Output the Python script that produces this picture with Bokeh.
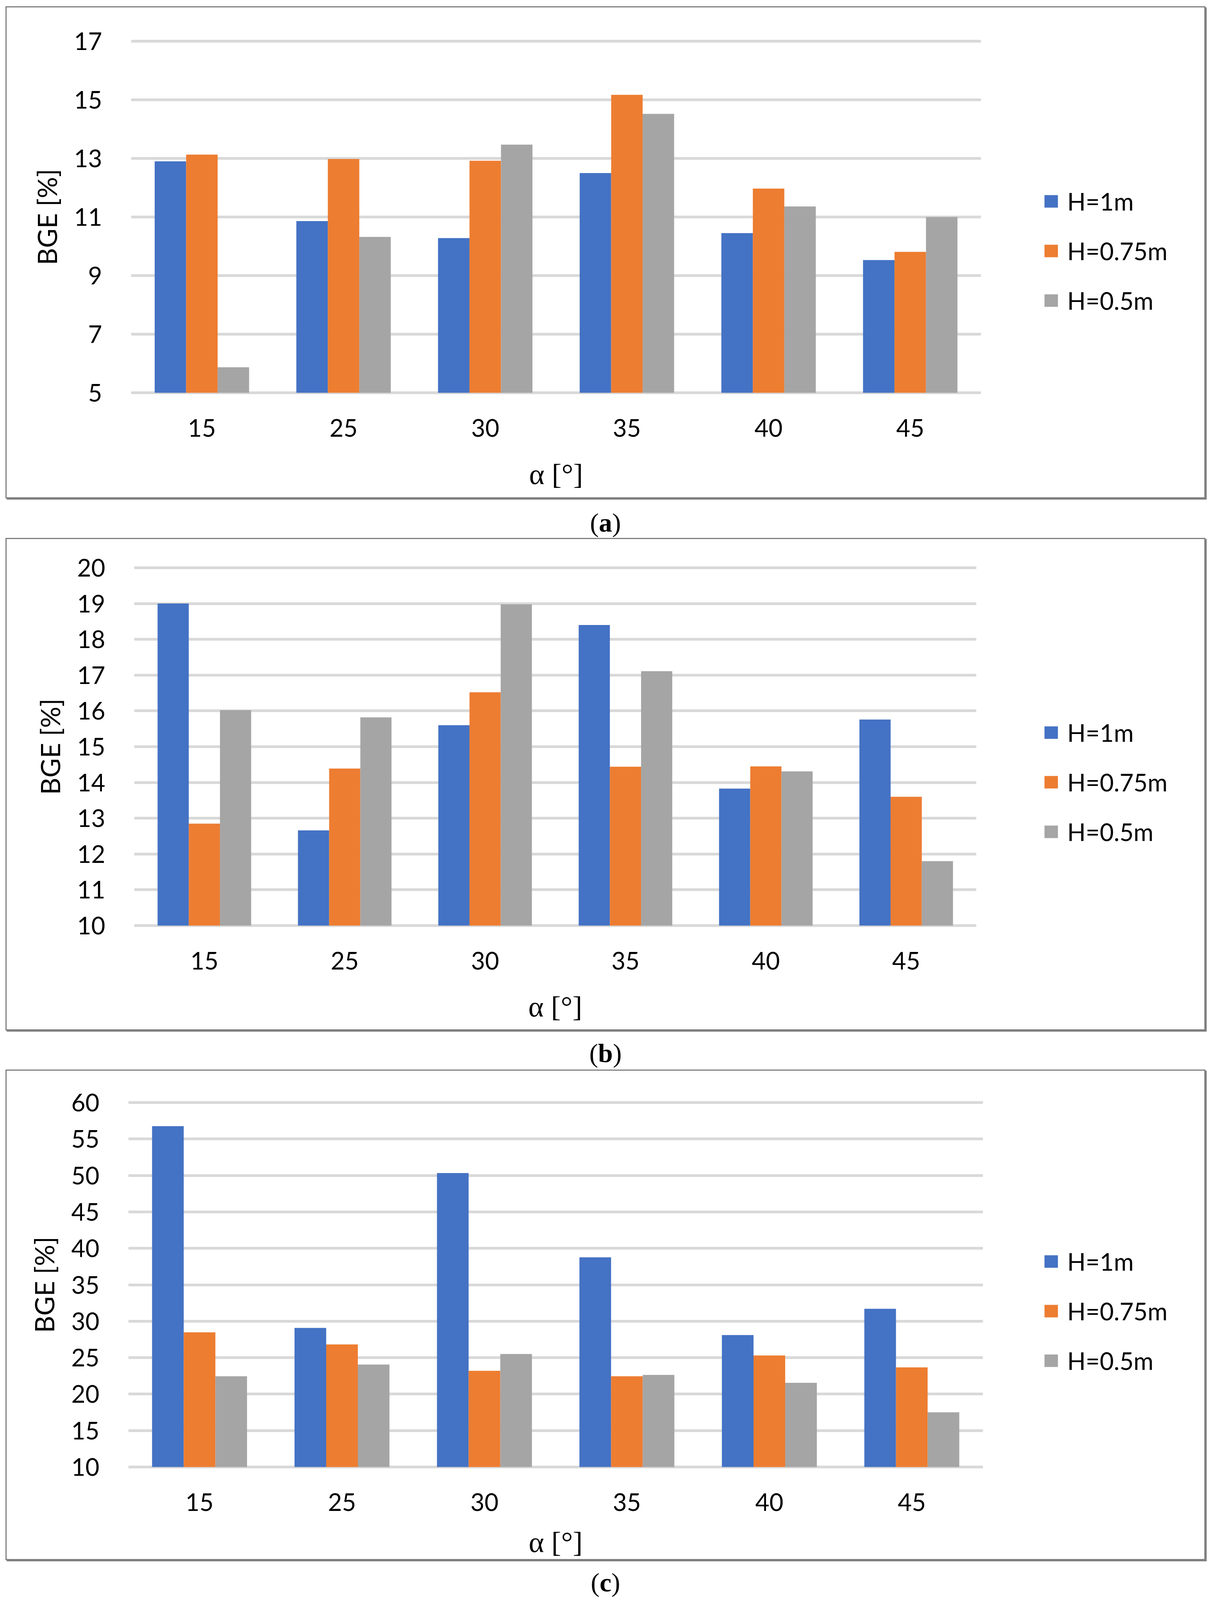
from bokeh.plotting import figure
from bokeh.models import FactorRange, Range1d, FixedTicker, Legend, LegendItem, Div, ColumnDataSource
from bokeh.layouts import column, row
from bokeh.transform import dodge
from bokeh.embed import file_html
from bokeh.resources import INLINE

# ---------------- data ----------------
alphas = ["15", "25", "30", "35", "40", "45"]
series_names = ["H=1m", "H=0.75m", "H=0.5m"]
colors = ["#4472C4", "#ED7D31", "#A5A5A5"]

# panel (a)
a_h1 = [12.90, 10.86, 10.28, 12.50, 10.45, 9.53]
a_h075 = [13.13, 12.98, 12.92, 15.17, 11.97, 9.81]
a_h05 = [5.87, 10.32, 13.47, 14.52, 11.36, 11.00]
a_ticks = [5, 7, 9, 11, 13, 15, 17]

# panel (b)
b_h1 = [19.00, 12.66, 15.60, 18.40, 13.83, 15.76]
b_h075 = [12.85, 14.39, 16.52, 14.44, 14.45, 13.60]
b_h05 = [16.02, 15.82, 18.98, 17.11, 14.31, 11.80]
b_ticks = [10, 11, 12, 13, 14, 15, 16, 17, 18, 19, 20]

# panel (c)
c_h1 = [56.76, 29.08, 50.32, 38.76, 28.10, 31.70]
c_h075 = [28.47, 26.82, 23.20, 22.45, 25.30, 23.67]
c_h05 = [22.45, 24.05, 25.50, 22.64, 21.55, 17.50]
c_ticks = [10, 15, 20, 25, 30, 35, 40, 45, 50, 55, 60]

captions = ["a", "b", "c"]

TICK_FONT = "Lato"
SERIF = "Liberation Serif"
TICK_SIZE = "62px"
BAR_W = 0.2222
PANEL_W = 3066
PAD = 4          # px of frame kept above / below the end gridlines
RIGHT_GAP = 140  # empty space right of the bar area inside the chart figure
SHADOW = "0 0 0 3px #808080, 3px 3px 0 3px #808080"


def make_panel(vals, ticks, height, mb_left, frame_w, mb_top, mb_bottom,
               leg_dx, leg_dy, xlabel_standoff, margin_top):
    lo, hi = ticks[0], ticks[-1]
    frame_h = height - mb_top - mb_bottom
    eps = (hi - lo) * PAD / frame_h
    main_w = mb_left + frame_w + RIGHT_GAP
    src = ColumnDataSource(dict(alpha=alphas, s0=vals[0], s1=vals[1], s2=vals[2]))
    p = figure(width=main_w, height=height,
               x_range=FactorRange(*alphas), y_range=Range1d(lo - eps, hi + eps),
               output_backend="svg", toolbar_location=None, tools="",
               min_border_left=mb_left, min_border_right=RIGHT_GAP,
               min_border_top=mb_top - PAD, min_border_bottom=mb_bottom - PAD,
               outline_line_color=None, background_fill_color="white",
               border_fill_color="white")

    offsets = [-BAR_W, 0.0, BAR_W]
    keys = ["s0", "s1", "s2"]
    for i, key in enumerate(keys):
        p.vbar(x=dodge("alpha", offsets[i], range=p.x_range), top=key,
               bottom=lo, width=BAR_W, source=src,
               fill_color=colors[i], line_color=None)

    p.xgrid.grid_line_color = None
    p.ygrid.grid_line_color = "#D9D9D9"
    p.ygrid.grid_line_width = 7
    p.yaxis.ticker = FixedTicker(ticks=ticks)

    for ax in (p.xaxis[0], p.yaxis[0]):
        ax.axis_line_color = None
        ax.major_tick_line_color = None
        ax.minor_tick_line_color = None
        ax.major_label_text_font = TICK_FONT
        ax.major_label_text_font_size = TICK_SIZE
        ax.major_label_text_color = "#000000"
        ax.axis_label_text_font_style = "normal"
        ax.axis_label_text_color = "#000000"

    p.yaxis.major_label_standoff = 68
    p.yaxis.axis_label = "BGE [%]"
    p.yaxis.axis_label_text_font = TICK_FONT
    p.yaxis.axis_label_text_font_size = "68px"
    p.yaxis.axis_label_standoff = 27

    p.xaxis.major_label_standoff = 57
    p.xaxis.axis_label = "\u03b1 [\u00b0]"
    p.xaxis.axis_label_text_font = SERIF
    p.xaxis.axis_label_text_font_size = "75px"
    p.xaxis.axis_label_standoff = xlabel_standoff

    # legend in its own small figure to the right of the bar area;
    # its key renderers (same data, zero width, outside the visible range) draw nothing
    leg_w = PANEL_W - main_w
    q = figure(width=leg_w, height=height,
               x_range=FactorRange(*alphas), y_range=Range1d(-2, -1),
               output_backend="svg", toolbar_location=None, tools="",
               x_axis_location=None, y_axis_location=None,
               min_border=0, min_border_left=0, min_border_right=0,
               min_border_top=0, min_border_bottom=0,
               outline_line_color=None, background_fill_color="white",
               border_fill_color="white")
    q.grid.visible = False
    proxies = []
    for i, key in enumerate(keys):
        proxies.append(q.vbar(x="alpha", top=key, bottom=lo, width=0.0, source=src,
                              fill_color=colors[i], line_color=None))
    legend = Legend(items=[LegendItem(label=series_names[i], renderers=[proxies[i]])
                           for i in range(3)],
                    location=(leg_dx - RIGHT_GAP, leg_dy),
                    orientation="vertical",
                    glyph_width=43, glyph_height=40, label_height=72,
                    spacing=53, padding=0, margin=0, label_standoff=20,
                    border_line_color=None, background_fill_alpha=0,
                    label_text_font=TICK_FONT, label_text_font_size=TICK_SIZE,
                    label_text_color="#000000")
    q.add_layout(legend)

    r = row(p, q, spacing=0, width=PANEL_W, height=height)
    r.margin = (margin_top, 0, 0, 17)
    r.styles = {"box-shadow": SHADOW, "background-color": "white"}
    return r


def make_caption(letter, height, pad):
    return Div(text="(<b>%s</b>)" % letter, width=PANEL_W, height=height,
               margin=(0, 0, 0, 17),
               styles={"text-align": "center", "font-family": "'Liberation Serif', serif",
                       "font-size": "68px", "line-height": "68px", "color": "#000000",
                       "padding-top": "%dpx" % pad, "box-sizing": "border-box"})


pa = make_panel([a_h1, a_h075, a_h05], a_ticks, 1254, 318, 2176, 86, 268,
                158, 203, 51, 19)
pb = make_panel([b_h1, b_h075, b_h05], b_ticks, 1255, 326, 2156, 73, 266,
                170, 207, 50, 0)
pc = make_panel([c_h1, c_h075, c_h05], c_ticks, 1250, 311, 2188, 81, 232,
                153, 239, 35, 0)

ca = make_caption(captions[0], 107, 31)
cb = make_caption(captions[1], 106, 27)
cc = make_caption(captions[2], 82, 26)

layout = column(pa, ca, pb, cb, pc, cc, spacing=0)

open("out.html", "w").write(file_html(layout, INLINE))
